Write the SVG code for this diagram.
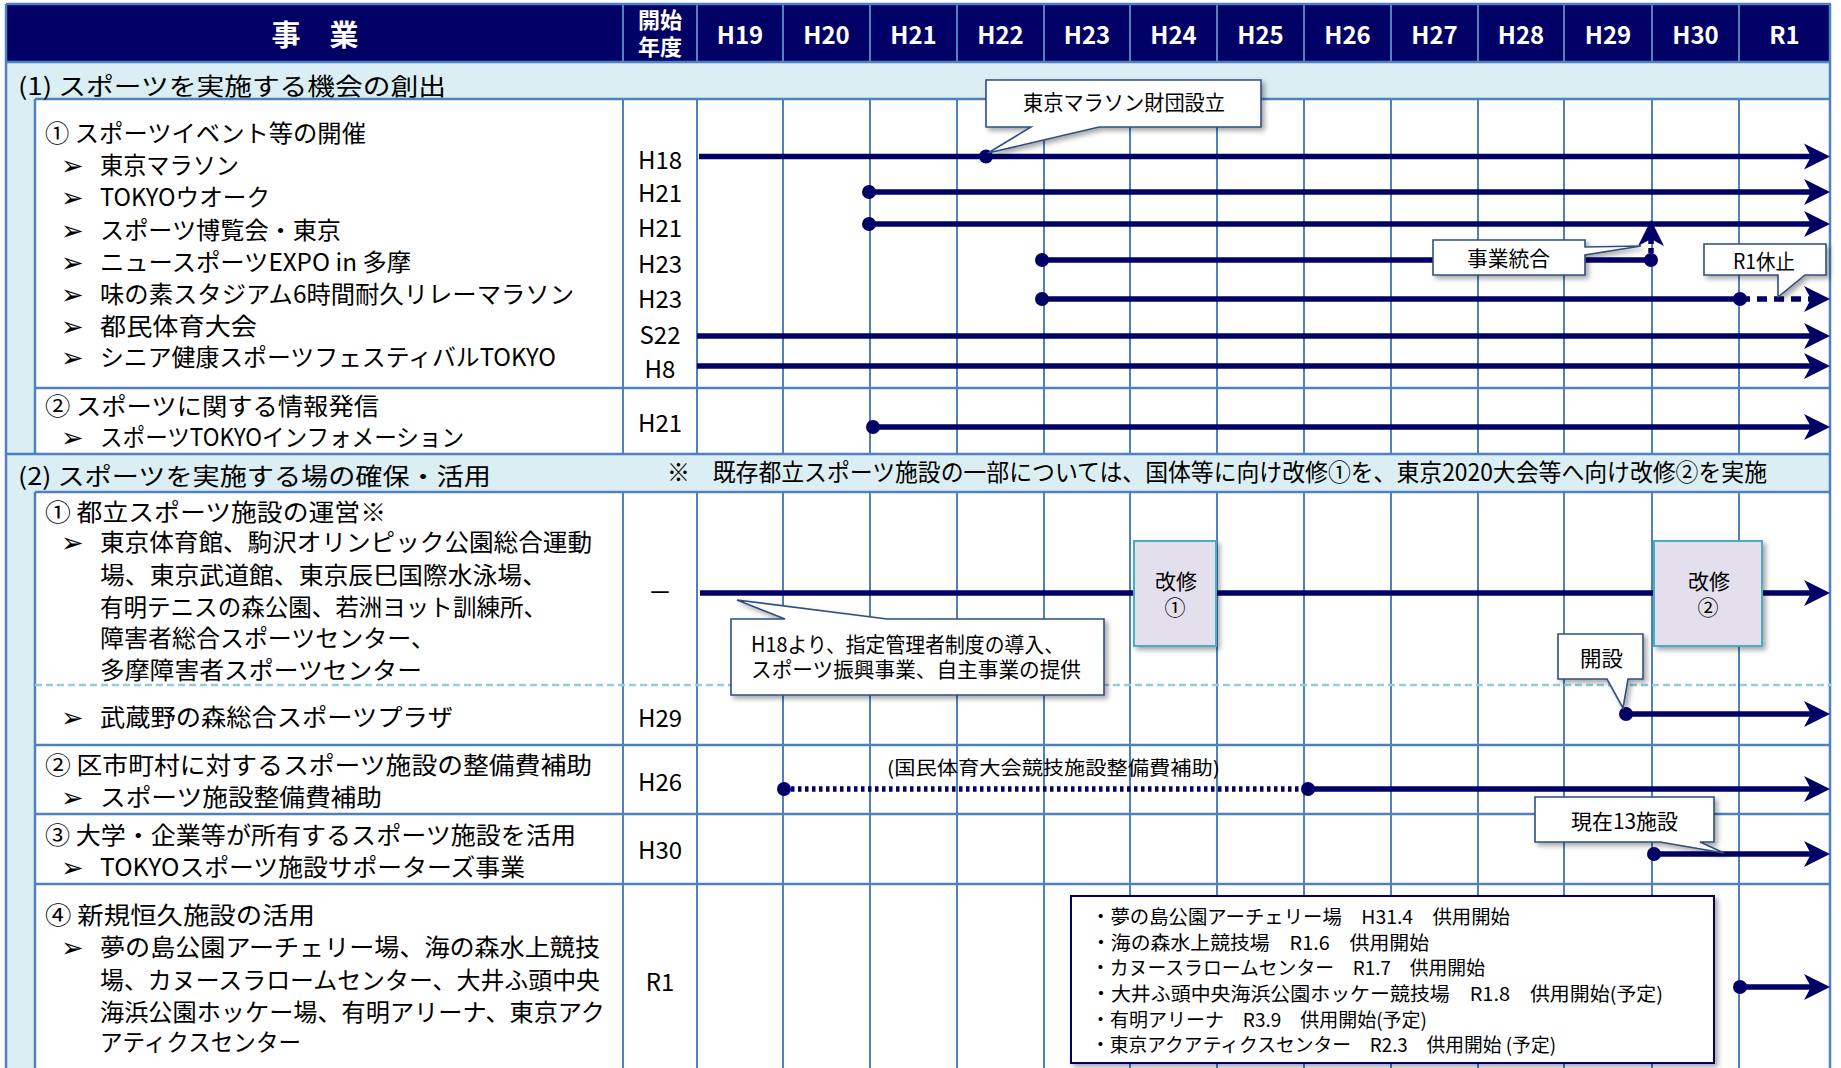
<svg xmlns="http://www.w3.org/2000/svg" width="1841" height="1068" viewBox="0 0 1841 1068">
<style>
.t{font-family:"Noto Sans CJK JP","Noto Sans",sans-serif;font-size:24px;fill:#000}
.yr{font-family:"Noto Sans CJK JP","Noto Sans",sans-serif;font-size:24px;fill:#000;text-anchor:middle}
.hd{font-family:"Noto Sans CJK JP","Noto Sans",sans-serif;font-weight:bold;fill:#fff;text-anchor:middle}
.c{font-family:"Noto Sans CJK JP","Noto Sans",sans-serif;font-size:21px;fill:#000}
.s{font-family:"Noto Sans CJK JP","Noto Sans",sans-serif;font-size:19px;fill:#000}
.bl{font-family:"DejaVu Sans",sans-serif;font-size:27px;fill:#000}
.g{stroke:#4f81bd;stroke-width:2;fill:none}
.gb{stroke:#4f81bd;stroke-width:2.5;fill:none}
.ln{stroke:#000066;stroke-width:5.5;fill:none}
.dot{fill:#000066}
.co{fill:#fff;stroke:#2f4f7f;stroke-width:1.6;filter:url(#sh)}
.kb{fill:#e4dfec;stroke:#4bacc6;stroke-width:2;filter:url(#sh)}
</style>
<defs>
<filter id="sh" x="-10%" y="-10%" width="130%" height="140%">
<feDropShadow dx="3" dy="3" stdDeviation="2.5" flood-color="#000" flood-opacity="0.35"/>
</filter>
<marker id="ah" markerUnits="userSpaceOnUse" markerWidth="26" markerHeight="28" viewBox="0 0 26 28" refX="18" refY="14" orient="auto">
<path d="M0,1 L26,14 L0,27 L7,14 Z" fill="#000066"/>
</marker>
</defs>
<rect width="1841" height="1068" fill="#fff"/>

<g id="table">
<rect x="6" y="4" width="1825" height="1064" fill="#daeef3"/>
<rect x="6" y="4" width="1825" height="58" fill="#000066"/>
<rect x="35" y="99" width="1796" height="355" fill="#fff"/>
<rect x="35" y="492" width="1796" height="576" fill="#fff"/>
<path class="g" d="M623,4V62M697,4V62M783,4V62M870,4V62M957,4V62M1044,4V62M1130,4V62M1217,4V62M1304,4V62M1391,4V62M1478,4V62M1564,4V62M1652,4V62M1739,4V62"/>
<path class="g" d="M623,99V454M697,99V454M783,99V454M870,99V454M957,99V454M1044,99V454M1130,99V454M1217,99V454M1304,99V454M1391,99V454M1478,99V454M1564,99V454M1652,99V454M1739,99V454"/>
<path class="g" d="M623,492V1068M697,492V1068M783,492V1068M870,492V1068M957,492V1068M1044,492V1068M1130,492V1068M1217,492V1068M1304,492V1068M1391,492V1068M1478,492V1068M1564,492V1068M1652,492V1068M1739,492V1068"/>
<path class="gb" d="M6,4H1831M6,62H1831M35,99H1831M35,388H1831M6,454H1831M35,492H1831M35,745H1831M35,814H1831M35,884H1831M6,4V1068M35,99V454M35,492V1068M1830,4V1068"/>
<path d="M35,685H1831" stroke="#92cddc" stroke-width="2.5" stroke-dasharray="7 4"/>
</g>

<g id="header">
<text class="hd" x="315" y="46" font-size="29">事　業</text>
<text class="hd" x="660" y="28" font-size="22">開始</text>
<text class="hd" x="660" y="55" font-size="22">年度</text>
<text class="hd" x="740" y="44" font-size="24">H19</text>
<text class="hd" x="826.5" y="44" font-size="24">H20</text>
<text class="hd" x="913.5" y="44" font-size="24">H21</text>
<text class="hd" x="1000.5" y="44" font-size="24">H22</text>
<text class="hd" x="1087" y="44" font-size="24">H23</text>
<text class="hd" x="1173.5" y="44" font-size="24">H24</text>
<text class="hd" x="1260.5" y="44" font-size="24">H25</text>
<text class="hd" x="1347.5" y="44" font-size="24">H26</text>
<text class="hd" x="1434.5" y="44" font-size="24">H27</text>
<text class="hd" x="1521" y="44" font-size="24">H28</text>
<text class="hd" x="1608" y="44" font-size="24">H29</text>
<text class="hd" x="1695.5" y="44" font-size="24">H30</text>
<text class="hd" x="1784.5" y="44" font-size="24">R1</text>
</g>

<g id="section1">
<text class="t" x="18" y="95" font-size="25" textLength="428" lengthAdjust="spacingAndGlyphs">(1) スポーツを実施する機会の創出</text>
</g>

<g id="row-1-1">
<text class="t" x="45" y="142" textLength="321" lengthAdjust="spacingAndGlyphs">① スポーツイベント等の開催</text>
<text class="bl" x="61" y="175">➢</text><text class="t" x="100" y="174" textLength="139" lengthAdjust="spacingAndGlyphs">東京マラソン</text>
<text class="bl" x="61" y="207">➢</text><text class="t" x="100" y="206" textLength="170" lengthAdjust="spacingAndGlyphs">TOKYOウオーク</text>
<text class="bl" x="61" y="240">➢</text><text class="t" x="100" y="239" textLength="241" lengthAdjust="spacingAndGlyphs">スポーツ博覧会・東京</text>
<text class="bl" x="61" y="272">➢</text><text class="t" x="100" y="271" textLength="311" lengthAdjust="spacingAndGlyphs">ニュースポーツEXPO in 多摩</text>
<text class="bl" x="61" y="304">➢</text><text class="t" x="100" y="303" textLength="474" lengthAdjust="spacingAndGlyphs">味の素スタジアム6時間耐久リレーマラソン</text>
<text class="bl" x="61" y="336">➢</text><text class="t" x="100" y="335" textLength="157" lengthAdjust="spacingAndGlyphs">都民体育大会</text>
<text class="bl" x="61" y="367">➢</text><text class="t" x="100" y="366" textLength="456" lengthAdjust="spacingAndGlyphs">シニア健康スポーツフェスティバルTOKYO</text>
<text class="yr" x="660" y="169">H18</text>
<text class="yr" x="660" y="202">H21</text>
<text class="yr" x="660" y="237">H21</text>
<text class="yr" x="660" y="273">H23</text>
<text class="yr" x="660" y="308">H23</text>
<text class="yr" x="660" y="344">S22</text>
<text class="yr" x="660" y="378">H8</text>
</g>

<g id="row-1-2">
<text class="t" x="45" y="415" textLength="334" lengthAdjust="spacingAndGlyphs">② スポーツに関する情報発信</text>
<text class="bl" x="61" y="447">➢</text><text class="t" x="100" y="446" textLength="364" lengthAdjust="spacingAndGlyphs">スポーツTOKYOインフォメーション</text>
<text class="yr" x="660" y="432">H21</text>
</g>

<g id="section2">
<text class="t" x="18" y="485" font-size="25" textLength="473" lengthAdjust="spacingAndGlyphs">(2) スポーツを実施する場の確保・活用</text>
<text class="t" x="667" y="481" font-size="22.5" textLength="1100" lengthAdjust="spacingAndGlyphs">※　既存都立スポーツ施設の一部については、国体等に向け改修①を、東京2020大会等へ向け改修②を実施</text>
</g>

<g id="row-2-1">
<text class="t" x="45" y="521" textLength="341" lengthAdjust="spacingAndGlyphs">① 都立スポーツ施設の運営※</text>
<text class="bl" x="61" y="552">➢</text><text class="t" x="100" y="551" textLength="492" lengthAdjust="spacingAndGlyphs">東京体育館、駒沢オリンピック公園総合運動</text>
<text class="t" x="100" y="584" textLength="447" lengthAdjust="spacingAndGlyphs">場、東京武道館、東京辰巳国際水泳場、</text>
<text class="t" x="100" y="616" textLength="447" lengthAdjust="spacingAndGlyphs">有明テニスの森公園、若洲ヨット訓練所、</text>
<text class="t" x="100" y="647" textLength="335" lengthAdjust="spacingAndGlyphs">障害者総合スポーツセンター、</text>
<text class="t" x="100" y="679" textLength="322" lengthAdjust="spacingAndGlyphs">多摩障害者スポーツセンター</text>
<text class="yr" x="660" y="601">－</text>
<text class="bl" x="61" y="727">➢</text><text class="t" x="100" y="726" textLength="353" lengthAdjust="spacingAndGlyphs">武蔵野の森総合スポーツプラザ</text>
<text class="yr" x="660" y="727">H29</text>
</g>

<g id="row-2-2">
<text class="t" x="45" y="774" textLength="547" lengthAdjust="spacingAndGlyphs">② 区市町村に対するスポーツ施設の整備費補助</text>
<text class="bl" x="61" y="807">➢</text><text class="t" x="100" y="806" textLength="282" lengthAdjust="spacingAndGlyphs">スポーツ施設整備費補助</text>
<text class="yr" x="660" y="791">H26</text>
<text class="s" x="887" y="775" textLength="333" lengthAdjust="spacingAndGlyphs">(国民体育大会競技施設整備費補助)</text>
</g>

<g id="row-2-3">
<text class="t" x="45" y="844" textLength="531" lengthAdjust="spacingAndGlyphs">③ 大学・企業等が所有するスポーツ施設を活用</text>
<text class="bl" x="61" y="877">➢</text><text class="t" x="100" y="876" textLength="425" lengthAdjust="spacingAndGlyphs">TOKYOスポーツ施設サポーターズ事業</text>
<text class="yr" x="660" y="859">H30</text>
</g>

<g id="row-2-4">
<text class="t" x="45" y="924" textLength="270" lengthAdjust="spacingAndGlyphs">④ 新規恒久施設の活用</text>
<text class="bl" x="61" y="957">➢</text><text class="t" x="100" y="956" textLength="500" lengthAdjust="spacingAndGlyphs">夢の島公園アーチェリー場、海の森水上競技</text>
<text class="t" x="100" y="989" textLength="500" lengthAdjust="spacingAndGlyphs">場、カヌースラロームセンター、大井ふ頭中央</text>
<text class="t" x="100" y="1021" textLength="505" lengthAdjust="spacingAndGlyphs">海浜公園ホッケー場、有明アリーナ、東京アク</text>
<text class="t" x="100" y="1051" textLength="201" lengthAdjust="spacingAndGlyphs">アティクスセンター</text>
<text class="yr" x="660" y="991">R1</text>
</g>

<g id="connectors">
<path class="ln" d="M699,156.5H1822" marker-end="url(#ah)"/>
<circle class="dot" cx="986" cy="156.5" r="7"/>
<path class="ln" d="M869,192H1822" marker-end="url(#ah)"/>
<circle class="dot" cx="869" cy="192" r="7"/>
<path class="ln" d="M869,224H1822" marker-end="url(#ah)"/>
<circle class="dot" cx="869" cy="224" r="7"/>
<path class="ln" d="M1042,260H1651"/>
<circle class="dot" cx="1042" cy="260" r="7"/>
<circle class="dot" cx="1651" cy="260" r="7"/>
<path class="ln" d="M1651,253V228" stroke-dasharray="5 4" stroke-width="4.5" marker-end="url(#ah)"/>
<path class="ln" d="M1042,299H1740"/>
<circle class="dot" cx="1042" cy="299" r="7"/>
<path class="ln" d="M1740,299H1822" stroke-dasharray="10 7" marker-end="url(#ah)"/>
<circle class="dot" cx="1740" cy="299" r="7"/>
<path class="ln" d="M697,336H1822" marker-end="url(#ah)"/>
<path class="ln" d="M697,366H1822" marker-end="url(#ah)"/>
<path class="ln" d="M873,427H1822" marker-end="url(#ah)"/>
<circle class="dot" cx="873" cy="427" r="7"/>
<path class="ln" d="M700,593H1822" marker-end="url(#ah)"/>
<path class="ln" d="M1626,714H1822" marker-end="url(#ah)"/>
<circle class="dot" cx="1626" cy="714" r="7"/>
<path class="ln" d="M784,789H1308" stroke-dasharray="3.5 3.5" stroke-width="5"/>
<circle class="dot" cx="784" cy="789" r="7"/>
<path class="ln" d="M1308,789H1822" marker-end="url(#ah)"/>
<circle class="dot" cx="1308" cy="789" r="7"/>
<path class="ln" d="M1654,854H1822" marker-end="url(#ah)"/>
<circle class="dot" cx="1654" cy="854" r="7"/>
<path class="ln" d="M1740,987H1822" marker-end="url(#ah)"/>
<circle class="dot" cx="1740" cy="987" r="7"/>
</g>

<g id="callout-marathon">
<path class="co" d="M986,80H1261V127H1099L988,153L1031,127H986Z"/>
<text class="c" x="1023" y="110" textLength="202" lengthAdjust="spacingAndGlyphs">東京マラソン財団設立</text>
</g>
<g id="callout-merge">
<path class="co" d="M1433,240H1585V247L1641,246L1585,255V275H1433Z"/>
<text class="c" x="1467" y="266" textLength="83" lengthAdjust="spacingAndGlyphs">事業統合</text>
</g>
<g id="callout-r1">
<path class="co" d="M1704,244H1826V275H1805L1778,297L1778,275H1704Z"/>
<text class="c" x="1733" y="269" font-size="20" textLength="62" lengthAdjust="spacingAndGlyphs">R1休止</text>
</g>
<g id="box-kaishu1">
<rect class="kb" x="1134" y="541" width="82" height="105"/>
<text class="c" x="1176" y="589" font-size="21" text-anchor="middle">改修</text>
<text class="c" x="1175" y="615" font-size="21" text-anchor="middle">①</text>
</g>
<g id="box-kaishu2">
<rect class="kb" x="1654" y="541" width="108" height="105"/>
<text class="c" x="1709" y="589" font-size="21" text-anchor="middle">改修</text>
<text class="c" x="1708" y="615" font-size="21" text-anchor="middle">②</text>
</g>
<g id="callout-shitei">
<path class="co" d="M731,619H785L737,600L887,619H1104V695H731Z"/>
<text class="c" x="751" y="652" font-size="20" textLength="313" lengthAdjust="spacingAndGlyphs">H18より、指定管理者制度の導入、</text>
<text class="c" x="751" y="677" font-size="20" textLength="330" lengthAdjust="spacingAndGlyphs">スポーツ振興事業、自主事業の提供</text>
</g>
<g id="callout-kaisetsu">
<path class="co" d="M1558,634H1643V679H1628L1623,708L1607,679H1558Z"/>
<text class="c" x="1580" y="666" textLength="43" lengthAdjust="spacingAndGlyphs">開設</text>
</g>
<g id="callout-13">
<path class="co" d="M1535,797H1714V842H1700L1724,853L1660,842H1535Z"/>
<text class="c" x="1571" y="829" textLength="107" lengthAdjust="spacingAndGlyphs">現在13施設</text>
</g>
<g id="box-facilities">
<rect x="1071" y="896" width="643" height="167" fill="#fff" stroke="#000066" stroke-width="2" filter="url(#sh)"/>
<text class="s" x="1091" y="924" textLength="419" lengthAdjust="spacingAndGlyphs">・夢の島公園アーチェリー場　H31.4　供用開始</text>
<text class="s" x="1091" y="950" textLength="338" lengthAdjust="spacingAndGlyphs">・海の森水上競技場　R1.6　供用開始</text>
<text class="s" x="1091" y="975" textLength="394" lengthAdjust="spacingAndGlyphs">・カヌースラロームセンター　R1.7　供用開始</text>
<text class="s" x="1091" y="1001" textLength="572" lengthAdjust="spacingAndGlyphs">・大井ふ頭中央海浜公園ホッケー競技場　R1.8　供用開始(予定)</text>
<text class="s" x="1091" y="1027" textLength="336" lengthAdjust="spacingAndGlyphs">・有明アリーナ　R3.9　供用開始(予定)</text>
<text class="s" x="1091" y="1052" textLength="465" lengthAdjust="spacingAndGlyphs">・東京アクアティクスセンター　R2.3　供用開始 (予定)</text>
</g>
</svg>
